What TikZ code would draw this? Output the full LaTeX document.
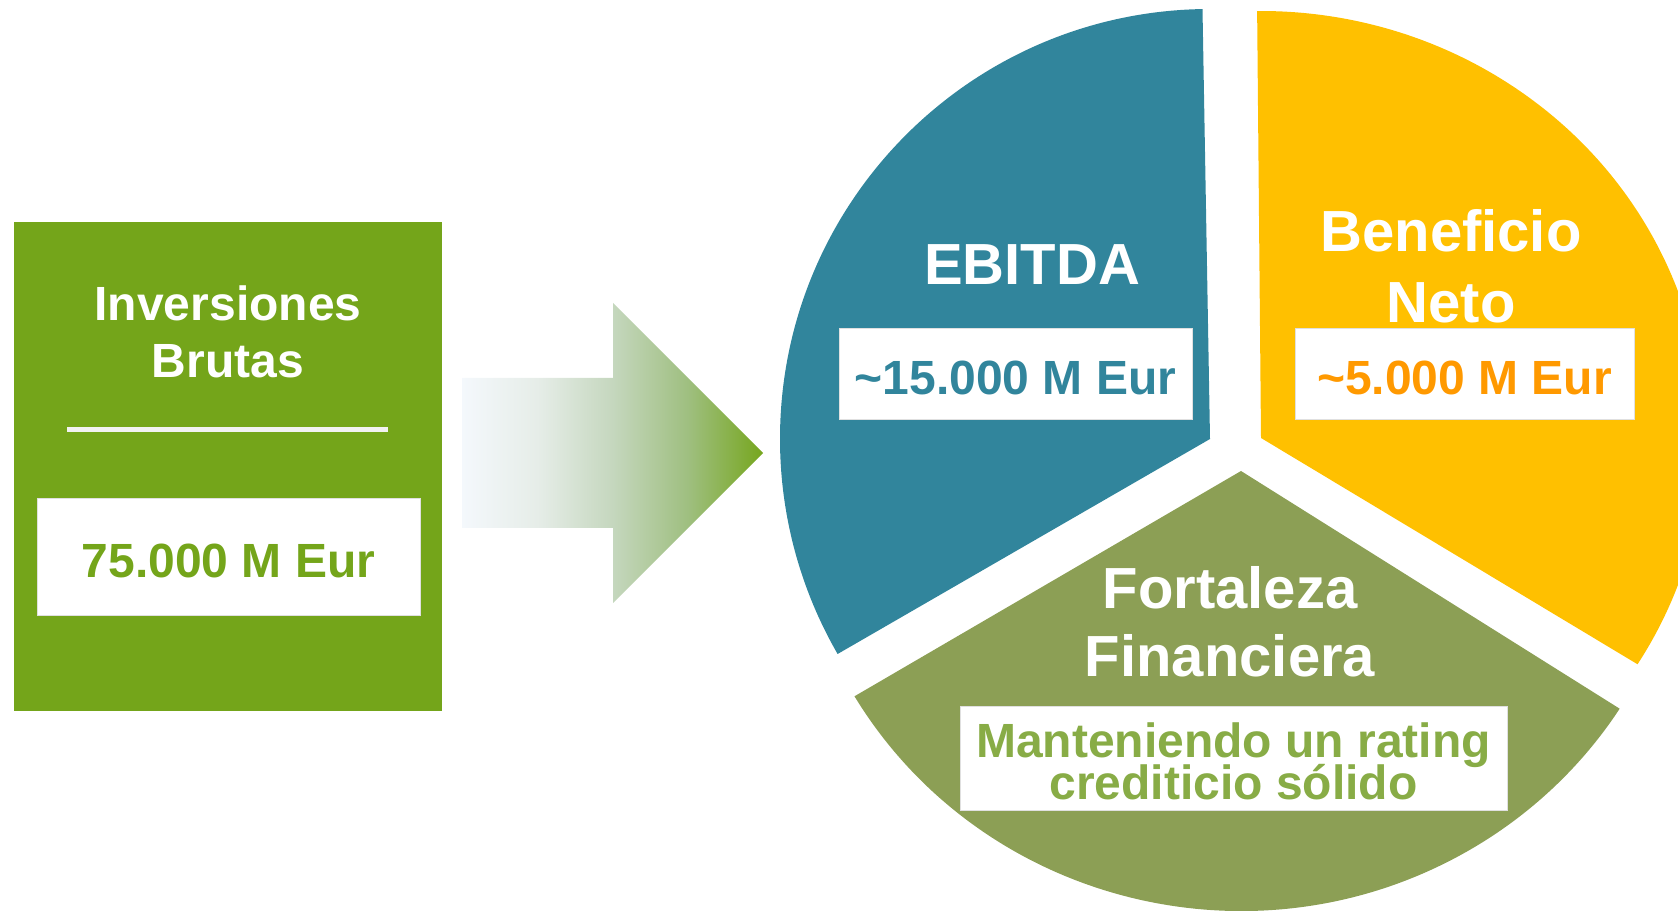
\documentclass[tikz,border=0pt]{standalone}
\usepackage{fontspec}
\setmainfont{Liberation Sans}
\definecolor{boxgreen}{HTML}{74A51A}
\definecolor{ebitdablue}{HTML}{31859C}
\definecolor{pieyellow}{HTML}{FFC000}
\definecolor{nettext}{HTML}{FF9900}
\definecolor{pieolive}{HTML}{8C9F55}
\definecolor{ratingtext}{HTML}{88AC46}
\definecolor{rulegrey}{HTML}{F2F2F2}
\definecolor{afa}{HTML}{F4F8FC}
\definecolor{afb}{HTML}{E6EDE8}
\definecolor{afc}{HTML}{C5D7BE}
\definecolor{afd}{HTML}{9FBF80}
\definecolor{afe}{HTML}{76A61E}
\pgfdeclarehorizontalshading{arrowfade}{100bp}{color(0bp)=(afa); color(25bp)=(afa); color(37.5bp)=(afb); color(50bp)=(afc); color(62.5bp)=(afd); color(75bp)=(afe); color(100bp)=(afe)}
\begin{document}
\begin{tikzpicture}[x=1pt,y=1pt,
  valbox/.style={fill=white, draw=black!12, line width=1pt, inner sep=0pt, align=center},
  valtext/.style={text height=40pt, text depth=0pt, font=\bfseries\fontsize{48}{52}\selectfont},
  whitetitle/.style={text=white, align=center, inner sep=0pt}]
\useasboundingbox (0,0) rectangle (1678,910);
\clip (0,0) rectangle (1678,910);

% left green panel
\node[fill=boxgreen, minimum width=428, minimum height=489, inner sep=0pt] (panel) at (228,443.5) {};
\node[whitetitle, font=\bfseries\fontsize{48}{57}\selectfont] (inv) at (228,578.5) {Inversiones\\Brutas};
\coordinate (ruleL) at (67,480);
\coordinate (ruleR) at (388,480);
\draw[rulegrey, line width=5pt] (ruleL) -- (ruleR);
\node[valbox, valtext, minimum width=383, minimum height=117, text=boxgreen] (inval) at (228.5,352.5) {75.000 M Eur};

% gradient arrow
\shade[shading=arrowfade] (462,532) -- (613,532) -- (613,607) -- (763,457) -- (613,307) -- (613,382) -- (462,382) -- cycle;

% pie sectors
\fill[ebitdablue] (1210,471) -- ++(91:430) arc[start angle=91, end angle=210, radius=430] -- cycle;
\fill[pieyellow] (1261,472) -- ++(-32:444 and 427) arc[start angle=-32, end angle=90.5, x radius=444, y radius=427] -- cycle;
\fill[pieolive] (1241,439) -- ++(210.8:450 and 440) arc[start angle=210.8, end angle=327.3, x radius=450, y radius=440] -- cycle;

% EBITDA
\node[whitetitle, font=\bfseries\fontsize{58}{68}\selectfont] (ebitda) at (1032,645) {EBITDA};
\node[valbox, valtext, minimum width=353, minimum height=91, text=ebitdablue] (ebitdaval) at (1015.5,535.5) {\textasciitilde15.000 M Eur};

% Beneficio Neto
\node[whitetitle, font=\bfseries\fontsize{58}{71}\selectfont] (neto) at (1451,643.5) {Beneficio\\Neto};
\node[valbox, valtext, minimum width=339, minimum height=91, text=nettext] (netoval) at (1464.5,535.5) {\textasciitilde5.000 M Eur};

% Fortaleza Financiera
\node[whitetitle, font=\bfseries\fontsize{58}{68}\selectfont] (fort) at (1230,288) {Fortaleza\\Financiera};
\node[valbox, minimum width=547, minimum height=104] (fortbox) at (1233.5,151) {};
\node[inner sep=0pt, align=center, text=ratingtext, font=\bfseries\fontsize{48}{44}\selectfont] (fortval) at (1233.5,148.5) {Manteniendo un rating\\[-5pt]crediticio sólido};
\end{tikzpicture}
\end{document}
